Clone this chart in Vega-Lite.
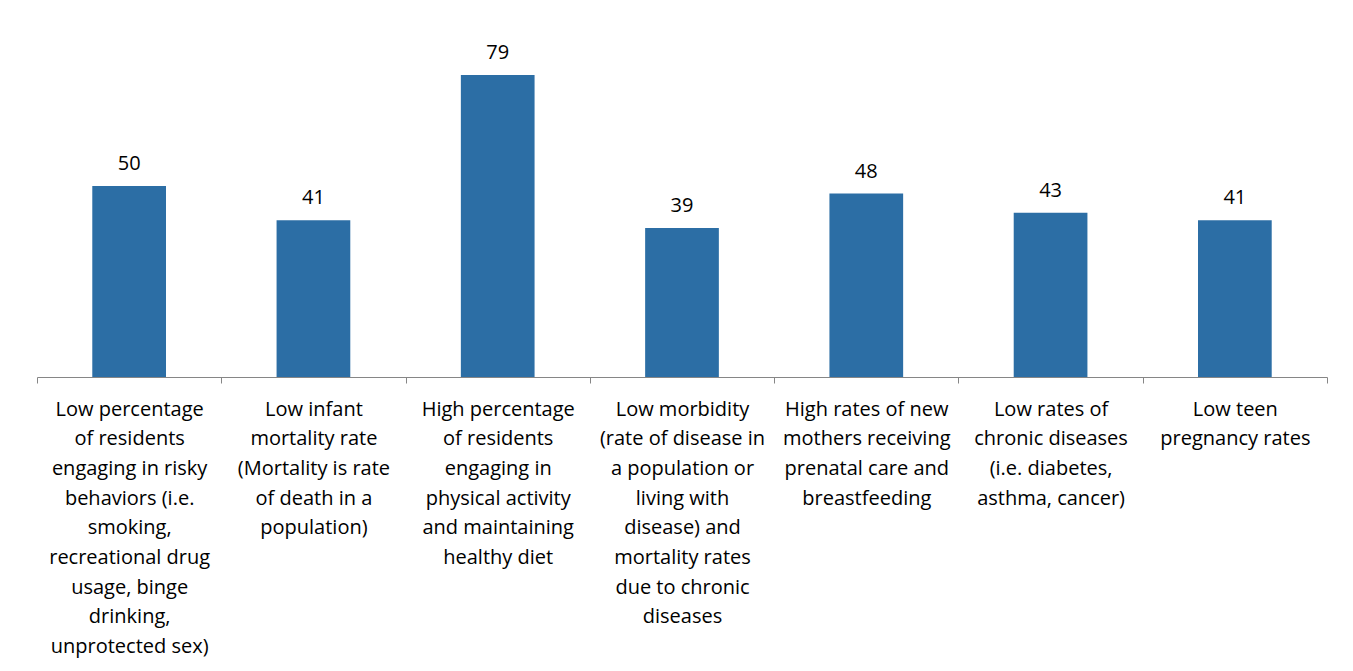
{
  "$schema": "https://vega.github.io/schema/vega-lite/v6.json",
  "width": 1290,
  "height": 344,
  "autosize": {"type": "none"},
  "padding": {"left": 37, "top": 33, "right": 26, "bottom": 294},
  "background": "white",
  "config": {"view": {"stroke": null}},
  "data": {
    "values": [
      {"category": "Low percentage|of residents|engaging in risky|behaviors (i.e.|smoking,|recreational drug|usage, binge|drinking,|unprotected sex)", "value": 50},
      {"category": "Low infant|mortality rate|(Mortality is rate|of death in a|population)", "value": 41},
      {"category": "High percentage|of residents|engaging in|physical activity|and maintaining|healthy diet", "value": 79},
      {"category": "Low morbidity|(rate of disease in|a population or|living with|disease) and|mortality rates|due to chronic|diseases", "value": 39},
      {"category": "High rates of new|mothers receiving|prenatal care and|breastfeeding", "value": 48},
      {"category": "Low rates of|chronic diseases|(i.e. diabetes,|asthma, cancer)", "value": 43},
      {"category": "Low teen|pregnancy rates", "value": 41}
    ]
  },
  "encoding": {
    "x": {
      "field": "category", "type": "nominal", "sort": null,
      "scale": {"paddingInner": 0, "paddingOuter": 0},
      "axis": {
        "title": null,
        "labelAngle": 0,
        "labelExpr": "split(datum.label, '|')",
        "labelFont": "Open Sans",
        "labelFontSize": 20,
        "labelColor": "black",
        "labelLineHeight": 29.7,
        "labelPadding": 16,
        "labelBaseline": "top",
        "labelLimit": 0,
        "labelOverlap": false,
        "tickBand": "extent",
        "tickSize": 6,
        "tickColor": "#868686",
        "domainColor": "#868686",
        "domainWidth": 1,
        "grid": false
      }
    },
    "y": {
      "field": "value", "type": "quantitative",
      "scale": {"domain": [0, 90]},
      "axis": null
    }
  },
  "layer": [
    {"mark": {"type": "bar", "color": "#2C6EA5", "width": {"band": 0.4}}},
    {
      "mark": {"type": "text", "dy": -12, "font": "Open Sans", "fontSize": 20, "color": "black", "baseline": "bottom"},
      "encoding": {"text": {"field": "value", "type": "quantitative"}}
    }
  ]
}
